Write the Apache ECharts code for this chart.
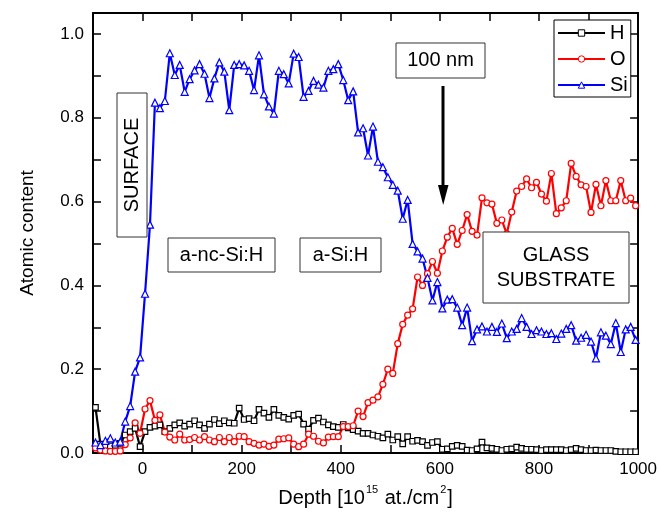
<!DOCTYPE html>
<html>
<head>
<meta charset="utf-8">
<script src="https://cdn.jsdelivr.net/npm/echarts@6/dist/echarts.min.js"></script>
<style>html,body{margin:0;padding:0;background:#fff}#c{width:660px;height:521px}</style>
</head>
<body>
<div id="c"></div>
<script>
const depth = [
-95,-85,-75,-65,-55,-45,-35,-25,-15,-5,
5,15,25,35,45,55,65,75,85,95,
105,115,125,135,145,155,165,175,185,195,
205,215,225,235,245,255,265,275,285,295,
305,315,325,335,345,355,365,375,385,395,
405,415,425,435,445,455,465,475,485,495,
505,515,525,535,545,555,565,575,585,595,
605,615,625,635,645,655,665,675,685,695,
705,715,725,735,745,755,765,775,785,795,
805,815,825,835,845,855,865,875,885,895,
905,915,925,935,945,955,965,975,985,995];

const H = [
0.109,0.021,0.017,0.017,0.018,0.023,0.043,0.051,0.059,0.015,
0.051,0.061,0.064,0.067,0.051,0.059,0.067,0.072,0.064,0.069,
0.077,0.067,0.059,0.069,0.080,0.070,0.077,0.072,0.071,0.107,
0.080,0.082,0.077,0.104,0.095,0.085,0.104,0.090,0.085,0.081,
0.090,0.093,0.069,0.057,0.078,0.083,0.074,0.067,0.063,0.061,
0.068,0.060,0.056,0.052,0.047,0.047,0.043,0.040,0.036,0.045,
0.031,0.039,0.022,0.039,0.028,0.030,0.027,0.018,0.025,0.027,
0.009,0.010,0.016,0.018,0.016,0.007,0.006,0.010,0.026,0.012,
0.011,0.009,0.006,0.009,0.010,0.014,0.011,0.009,0.009,0.008,
0.006,0.008,0.008,0.008,0.008,0.006,0.008,0.011,0.008,0.006,
0.006,0.007,0.006,0.006,0.006,0.004,0.003,0.003,0.003,0.003];

const O = [
0.012,0.007,0.005,0.004,0.004,0.005,0.020,0.036,0.072,0.047,
0.105,0.125,0.078,0.091,0.050,0.038,0.031,0.045,0.031,0.032,
0.037,0.031,0.039,0.031,0.027,0.037,0.027,0.037,0.027,0.040,
0.039,0.027,0.023,0.019,0.021,0.016,0.019,0.033,0.034,0.036,
0.021,0.015,0.021,0.045,0.040,0.028,0.024,0.038,0.039,0.039,
0.063,0.063,0.065,0.100,0.087,0.120,0.126,0.134,0.164,0.200,
0.190,0.261,0.307,0.329,0.344,0.420,0.400,0.428,0.457,0.429,
0.482,0.515,0.536,0.498,0.531,0.569,0.529,0.520,0.609,0.597,
0.594,0.548,0.556,0.523,0.575,0.625,0.636,0.654,0.633,0.646,
0.618,0.601,0.667,0.571,0.585,0.602,0.691,0.660,0.640,0.636,
0.574,0.641,0.590,0.650,0.602,0.602,0.650,0.602,0.608,0.590];

const Si = [
0.025,0.019,0.029,0.035,0.025,0.027,0.075,0.112,0.194,0.228,
0.380,0.545,0.836,0.823,0.840,0.954,0.902,0.926,0.862,0.892,
0.913,0.928,0.905,0.847,0.894,0.932,0.910,0.818,0.926,0.928,
0.925,0.912,0.866,0.949,0.856,0.827,0.810,0.912,0.904,0.882,
0.953,0.945,0.850,0.864,0.888,0.879,0.872,0.912,0.916,0.928,
0.890,0.842,0.863,0.765,0.775,0.710,0.779,0.695,0.682,0.658,
0.640,0.626,0.559,0.604,0.499,0.481,0.464,0.418,0.364,0.408,
0.345,0.366,0.367,0.347,0.305,0.347,0.267,0.295,0.302,0.290,
0.301,0.289,0.309,0.274,0.290,0.296,0.322,0.301,0.284,0.293,
0.290,0.284,0.286,0.272,0.285,0.296,0.305,0.268,0.275,0.282,
0.266,0.226,0.288,0.280,0.260,0.310,0.241,0.295,0.301,0.270];

const xTickLabels = ['0','200','400','600','800','1000'];
const yTickLabels = ['0.0','0.2','0.4','0.6','0.8','1.0'];

const FONT = '"Liberation Sans", Arial, Helvetica, sans-serif';
const pairs = arr => depth.map((d, i) => [d, arr[i]]);

function xFmt(v) {
  const s = String(Math.round(v));
  return xTickLabels.indexOf(s) >= 0 ? s : '';
}
function yFmt(v) {
  const s = (Math.round(v * 10) / 10).toFixed(1);
  return (Math.abs(v * 10 - Math.round(v * 10)) < 1e-6 && yTickLabels.indexOf(s) >= 0) ? s : '';
}

const axisLine = { show: true, onZero: false, lineStyle: { color: '#000', width: 2 } };
const axisTick = { show: true, inside: true, length: 8, lineStyle: { color: '#000', width: 1.5 } };

function mkSeries(name, arr, color, symbol, size) {
  return {
    name, type: 'line', data: pairs(arr), symbol, symbolSize: size,
    showAllSymbol: true, animation: false,
    lineStyle: { color, width: 2.2 },
    itemStyle: { color: '#fff', borderColor: color, borderWidth: 1.2 },
    emphasis: { disabled: true }
  };
}

const chart = echarts.init(document.getElementById('c'), null, { renderer: 'canvas' });
const boxStyle = { fill: '#fff', stroke: '#333', lineWidth: 1 };
const txt = (text, x, y, extra) => Object.assign({
  type: 'text', z: 101, x, y,
  style: { text, x: 0, y: 0, fill: '#000', font: '20px ' + FONT, align: 'center', verticalAlign: 'middle' }
}, extra || {});
const legItem = (name, color) => ({ name, itemStyle: { color: '#fff', borderColor: color, borderWidth: 1 } });

chart.setOption({
  animation: false,
  backgroundColor: '#fff',
  grid: { left: 93, right: 20, top: 13, bottom: 68, containLabel: false },
  xAxis: [{
    type: 'value', min: -100, max: 1000, interval: 100, position: 'bottom',
    axisLine, axisTick, splitLine: { show: false },
    axisLabel: { formatter: xFmt, fontSize: 17, color: '#000', fontFamily: FONT, margin: 8 },
    name: '{a|Depth [10}{s|15}{a| at./cm}{s|2}{a|]}', nameLocation: 'middle', nameGap: 31,
    nameTextStyle: { rich: {
      a: { fontSize: 20, fontFamily: FONT, color: '#000', verticalAlign: 'bottom', lineHeight: 24 },
      s: { fontSize: 11, fontFamily: FONT, color: '#000', verticalAlign: 'top', lineHeight: 24, padding: [0, 1, 0, 1] }
    } }
  }, {
    type: 'value', min: -100, max: 1000, interval: 100, position: 'top',
    axisLine, axisTick, splitLine: { show: false }, axisLabel: { show: false }
  }],
  yAxis: [{
    type: 'value', min: 0, max: 1.05, interval: 0.1, position: 'left',
    axisLine, axisTick, splitLine: { show: false },
    axisLabel: { formatter: yFmt, fontSize: 17, color: '#000', fontFamily: FONT, margin: 9 },
    name: 'Atomic content', nameLocation: 'middle', nameGap: 56, nameRotate: 90,
    nameTextStyle: { fontSize: 19, fontFamily: FONT, color: '#000' }
  }, {
    type: 'value', min: 0, max: 1.05, interval: 0.1, position: 'right',
    axisLine, axisTick, splitLine: { show: false }, axisLabel: { show: false }
  }],
  legend: {
    data: [legItem('H', '#000000'), legItem('O', '#ff0000'), legItem('Si', '#0000ff')],
    orient: 'vertical', left: 554, top: 20,
    backgroundColor: '#fff', borderColor: '#000', borderWidth: 1, borderRadius: 0,
    padding: [3, 3, 2, 3], itemWidth: 47, itemHeight: 8, itemGap: 6,
    textStyle: { fontSize: 20, fontFamily: FONT, color: '#000', lineHeight: 20 },
    selectedMode: false, z: 20
  },
  series: [
    mkSeries('H', H, '#000000', 'rect', 5.5),
    mkSeries('O', O, '#ff0000', 'circle', 6),
    mkSeries('Si', Si, '#0000ff', 'triangle', 7)
  ],
  graphic: [
    { type: 'rect', z: 100, shape: { x: 117, y: 93, width: 30, height: 144 }, style: boxStyle },
    txt('SURFACE', 132, 165, { rotation: Math.PI / 2 }),
    { type: 'rect', z: 100, shape: { x: 168, y: 238, width: 107, height: 34 }, style: boxStyle },
    txt('a-nc-Si:H', 221.5, 255),
    { type: 'rect', z: 100, shape: { x: 300, y: 238, width: 81, height: 34 }, style: boxStyle },
    txt('a-Si:H', 340.5, 255),
    { type: 'rect', z: 100, shape: { x: 396, y: 43, width: 89, height: 35 }, style: boxStyle },
    txt('100 nm', 440.5, 60.5),
    { type: 'line', z: 100, shape: { x1: 443, y1: 86, x2: 443, y2: 190 }, style: { stroke: '#000', lineWidth: 3 } },
    { type: 'polygon', z: 100, shape: { points: [[438, 185], [448.5, 185], [443.2, 205]] }, style: { fill: '#000' } },
    { type: 'rect', z: 100, shape: { x: 483, y: 232, width: 146, height: 71 }, style: boxStyle },
    txt('GLASS', 556, 255),
    txt('SUBSTRATE', 556, 280)
  ]
});
</script>
</body>
</html>
